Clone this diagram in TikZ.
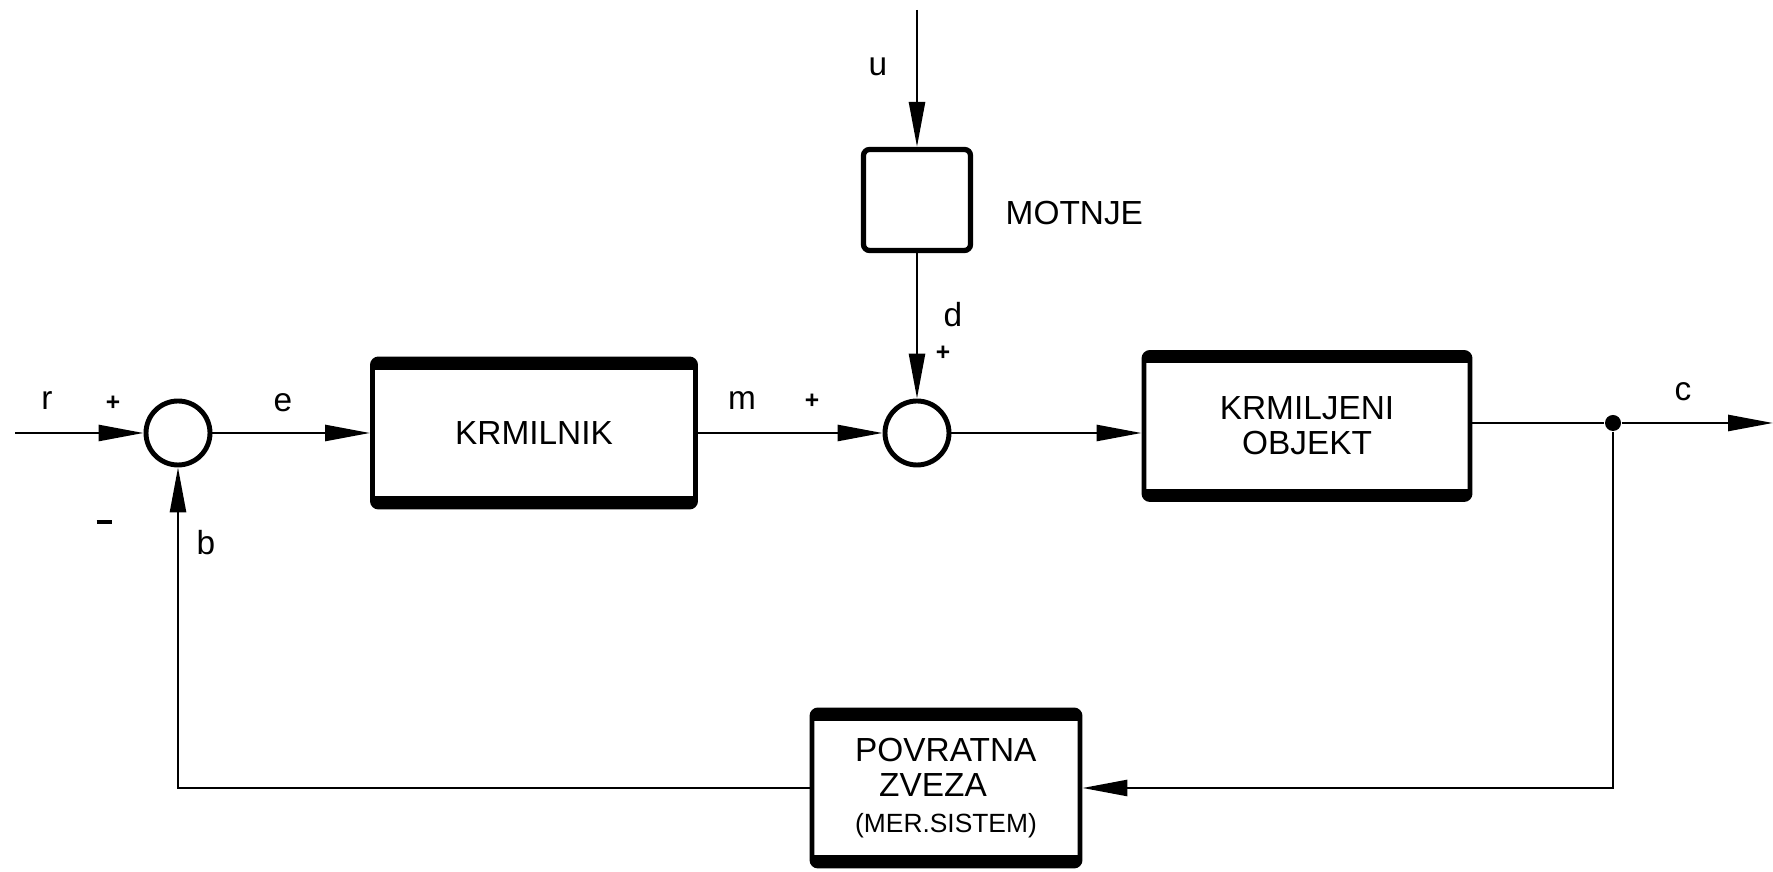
\documentclass[tikz,border=0pt]{standalone}
\usepackage{fontspec}
\setmainfont{Liberation Sans}
\usetikzlibrary{arrows.meta}
\begin{document}
\begin{tikzpicture}[x=0.1mm,y=-0.1mm,
  font=\fontsize{9.5}{10}\selectfont,
  conn/.style={line width=0.75pt},
  arr/.style={conn,-{Triangle[length=4.5mm,width=1.6mm]}},
  sumnode/.style={circle,draw,line width=1.4pt,minimum size=6.4mm,inner sep=0pt},
  blockbox/.style={draw,line width=1.4pt,rounded corners=0.6mm,inner sep=0pt,align=center,
    path picture={
      \draw[line width=6pt] (path picture bounding box.north west) -- (path picture bounding box.north east);
      \draw[line width=6pt] (path picture bounding box.south west) -- (path picture bounding box.south east);}},
  lbl/.style={inner sep=0pt},
  sign/.style={inner sep=0pt,font=\fontsize{7}{7}\selectfont\bfseries},
]
\useasboundingbox (0,0) rectangle (1773,872);

% nodes
\node[sumnode] (s1) at (178,433) {};
\node[blockbox,minimum width=32.3mm,minimum height=14.8mm] (k) at (534,433) {KRMILNIK};
\node[sumnode] (s2) at (917,433) {};
\node[draw,line width=1.5pt,rounded corners=0.6mm,minimum width=10.7mm,minimum height=10.1mm,inner sep=0pt] (mo) at (917,200) {};
\node[blockbox,minimum width=32.6mm,minimum height=14.7mm] (ko) at (1307,426) {KRMILJENI\\OBJEKT};
\node[blockbox,align=left,minimum width=26.8mm,minimum height=15.6mm] (fb) at (946,788)
  {POVRATNA\\\hspace*{2.4mm}ZVEZA\\{\fontsize{7.5}{8}\selectfont (MER.SISTEM)}};
\node[circle,fill,inner sep=0pt,minimum size=1.6mm] (dot) at (1613,423) {};
\coordinate (in) at (15,433);
\coordinate (top) at (917,10);
\coordinate (out) at (1773,423);

% connectors
\draw[arr] (in) -- (s1.west);
\draw[arr] (s1.east) -- (k.west);
\draw[arr] (k.east) -- (s2.west);
\draw[arr] (top) -- (mo.north);
\draw[arr] (mo.south) -- (s2.north);
\draw[arr] (s2.east) -- (s2.east -| ko.west);
\draw[conn] (dot -| ko.east) -- (dot);
\draw[arr] (dot) -- (out);
\draw[arr] (dot) |- (fb.east);
\draw[arr] (fb.west) -| (s1.south);

% labels
\node[lbl] (lr) at (47,401) {r};
\node[sign] (p1) at (113,403) {+};
\node[lbl] (le) at (283,403) {e};
\node[inner sep=0pt] (mn) at (104,522) {\rule{1.5mm}{0.4mm}};
\node[lbl] (lb) at (206,543) {b};
\node[lbl] (lm) at (742,401) {m};
\node[sign] (p2) at (812,401) {+};
\node[lbl] (lu) at (878,67) {u};
\node[lbl] (ld) at (953,315) {d};
\node[sign] (p3) at (943,353) {+};
\node[lbl,anchor=west] (lmo) at (1005,213) {MOTNJE};
\node[lbl] (lc) at (1683,392) {c};
\end{tikzpicture}
\end{document}
